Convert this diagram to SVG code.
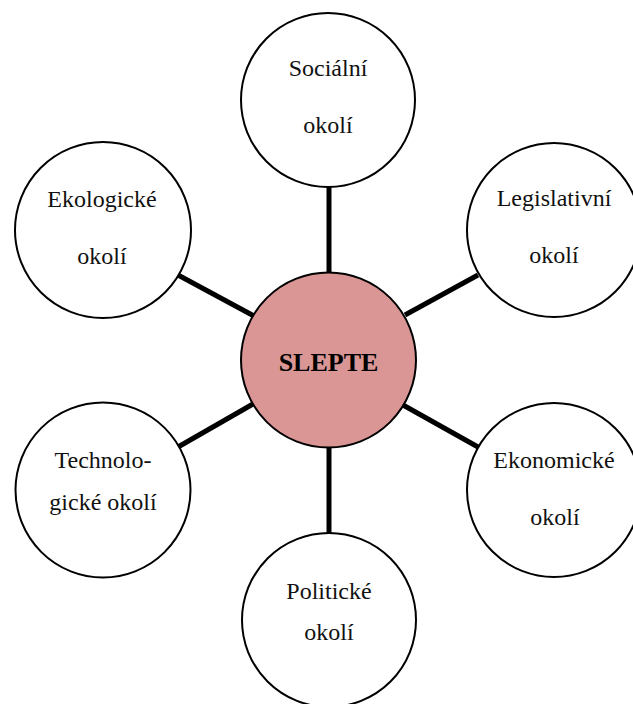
<svg xmlns="http://www.w3.org/2000/svg" width="633" height="704" viewBox="0 0 633 704">
  <style>
    .node { fill: #ffffff; stroke: #000000; stroke-width: 2; }
    .hub { fill: #d99694; stroke: #000000; stroke-width: 2; }
    .link { stroke: #000000; stroke-width: 5; fill: none; }
    .label { font-family: "Liberation Serif", "Times New Roman", serif; font-size: 24px; fill: #111111; text-anchor: middle; }
    .hub-label { font-family: "Liberation Serif", "Times New Roman", serif; font-size: 26px; font-weight: bold; fill: #000000; text-anchor: middle; }
  </style>
  <rect width="633" height="704" fill="#ffffff"/>

  <!-- spokes between the hub and the surrounding circles -->
  <g id="connectors">
    <line class="link" x1="329" y1="185" x2="329" y2="273"/>
    <line class="link" x1="178" y1="275" x2="254" y2="316"/>
    <line class="link" x1="405" y1="315" x2="478" y2="275"/>
    <line class="link" x1="253" y1="404" x2="178" y2="447"/>
    <line class="link" x1="403" y1="405" x2="478" y2="447"/>
    <line class="link" x1="329" y1="447" x2="329" y2="533"/>
  </g>

  <g id="socialni">
    <circle class="node" cx="328" cy="100" r="87"/>
    <text class="label" x="328" y="76">Sociální</text>
    <text class="label" x="328" y="133">okolí</text>
  </g>

  <g id="ekologicke">
    <circle class="node" cx="103" cy="230" r="88"/>
    <text class="label" x="102" y="207">Ekologické</text>
    <text class="label" x="102" y="264">okolí</text>
  </g>

  <g id="legislativni">
    <circle class="node" cx="554" cy="230" r="87"/>
    <text class="label" x="554" y="206">Legislativní</text>
    <text class="label" x="554" y="263">okolí</text>
  </g>

  <g id="slepte">
    <circle class="hub" cx="328.5" cy="360" r="87.5"/>
    <text class="hub-label" x="328.5" y="371">SLEPTE</text>
  </g>

  <g id="technologicke">
    <circle class="node" cx="103" cy="490" r="87.5"/>
    <text class="label" x="103" y="468">Technolo-</text>
    <text class="label" x="103" y="510">gické okolí</text>
  </g>

  <g id="ekonomicke">
    <circle class="node" cx="554" cy="490" r="87"/>
    <text class="label" x="554" y="468">Ekonomické</text>
    <text class="label" x="555" y="525">okolí</text>
  </g>

  <g id="politicke">
    <circle class="node" cx="329" cy="620" r="87"/>
    <text class="label" x="329" y="599">Politické</text>
    <text class="label" x="329" y="640">okolí</text>
  </g>
</svg>
